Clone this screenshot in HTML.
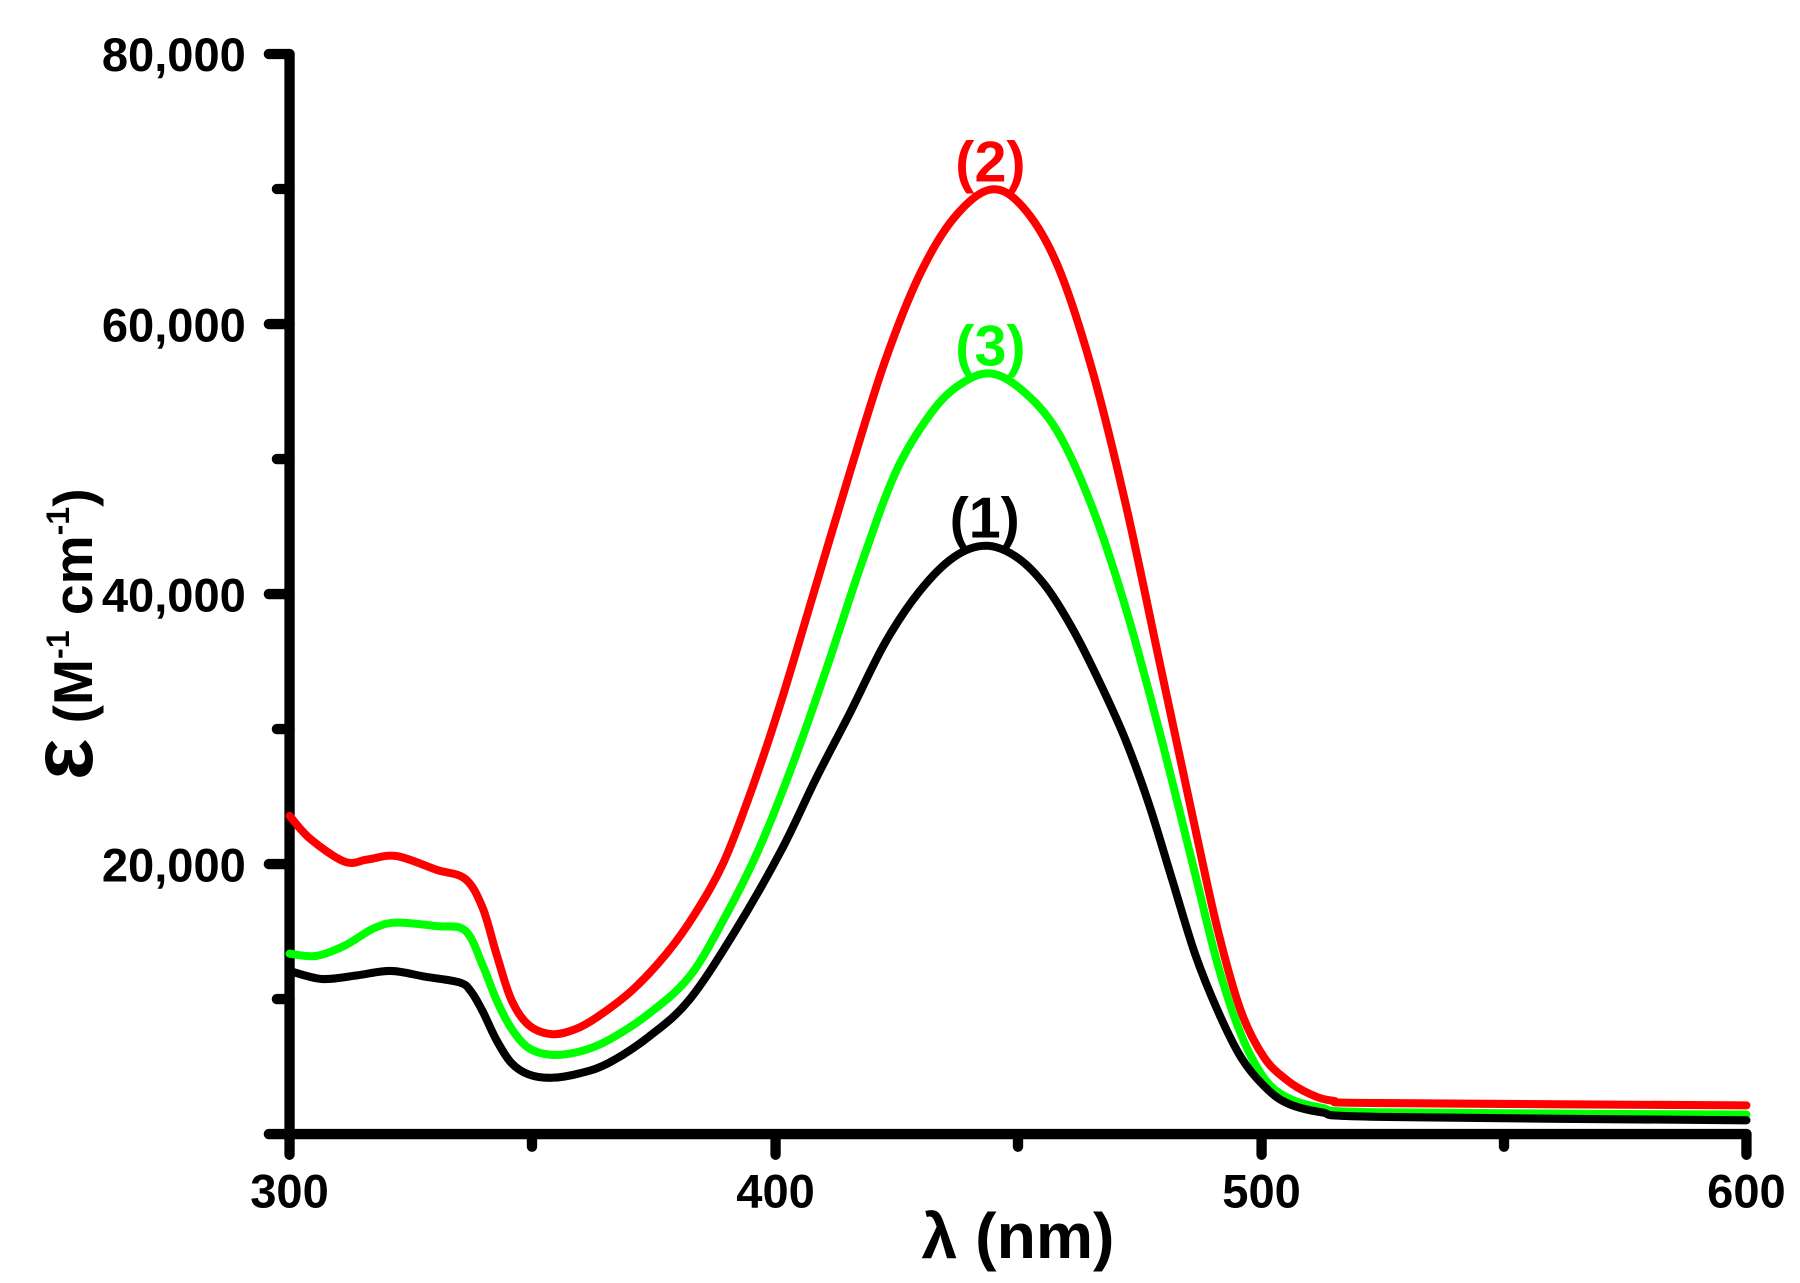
<!DOCTYPE html>
<html><head><meta charset="utf-8"><style>
html,body{margin:0;padding:0;background:#fff;}
svg{display:block;}
text{font-family:"Liberation Sans",Arial,sans-serif;font-weight:bold;}
</style></head><body>
<svg width="1800" height="1283" viewBox="0 0 1566.6 1116.6" preserveAspectRatio="none" xmlns="http://www.w3.org/2000/svg">
<g stroke="#000" stroke-width="9" stroke-linecap="round" fill="none">
<line x1="252" y1="47" x2="252" y2="987"/>
<line x1="252" y1="987" x2="1520" y2="987"/>
<line x1="234" y1="47" x2="252" y2="47"/>
<line x1="234" y1="282" x2="252" y2="282"/>
<line x1="234" y1="517" x2="252" y2="517"/>
<line x1="234" y1="752" x2="252" y2="752"/>
<line x1="234" y1="987" x2="252" y2="987"/>
<line x1="241" y1="164.5" x2="252" y2="164.5"/>
<line x1="241" y1="399.5" x2="252" y2="399.5"/>
<line x1="241" y1="634.5" x2="252" y2="634.5"/>
<line x1="241" y1="869.5" x2="252" y2="869.5"/>
<line x1="252" y1="987" x2="252" y2="1005"/>
<line x1="675" y1="987" x2="675" y2="1005"/>
<line x1="1098" y1="987" x2="1098" y2="1005"/>
<line x1="1520" y1="987" x2="1520" y2="1005"/>
<line x1="463" y1="987" x2="463" y2="998"/>
<line x1="886" y1="987" x2="886" y2="998"/>
<line x1="1309" y1="987" x2="1309" y2="998"/>
</g>
<g font-size="41" text-anchor="end" fill="#000">
<text x="214" y="62">80,000</text>
<text x="214" y="297">60,000</text>
<text x="214" y="532">40,000</text>
<text x="214" y="767">20,000</text>
</g>
<g font-size="41" text-anchor="middle" fill="#000">
<text x="252" y="1051">300</text>
<text x="675" y="1051">400</text>
<text x="1098" y="1051">500</text>
<text x="1520" y="1051">600</text>
</g>
<text x="886" y="1095" font-size="56" text-anchor="middle">λ (nm)</text>
<text transform="translate(80,552) rotate(-90)" font-size="48" text-anchor="middle"><tspan font-size="76">ε</tspan> (M<tspan font-size="28" dy="-20">-1</tspan><tspan dy="20"> cm</tspan><tspan font-size="28" dy="-20">-1</tspan><tspan dy="20">)</tspan></text>
<g fill="none" stroke-width="7" stroke-linejoin="round" stroke-linecap="round" class="cv">
<polyline stroke="#ff0000" points="252,710 270,730 300,750 320,748 345,745 380,757 405,765 420,790 432,830 445,870 460,892 480,900 500,896 520,885 550,862 580,830 605,795 630,750 655,685 680,610 710,510 740,410 770,315 800,240 830,190 862,165 890,180 920,230 950,320 980,440 1010,580 1040,720 1060,810 1080,880 1100,920 1120,940 1140,952 1160,958 1200,960 1520,962"/>
<polyline stroke="#00ff00" points="252,830 275,832 300,823 325,808 345,803 380,806 405,810 420,840 432,870 445,895 460,912 480,918 505,915 530,905 565,882 600,850 630,800 660,740 690,665 720,580 750,490 780,410 810,360 835,335 862,325 890,340 920,375 950,440 980,530 1010,640 1040,760 1060,840 1080,900 1100,938 1120,955 1150,964 1200,968 1520,970"/>
<polyline stroke="#000000" points="252,845 280,852 310,849 340,845 370,850 400,855 410,863 420,880 432,905 445,925 460,935 480,938 505,934 530,925 565,902 600,870 640,810 680,740 710,678 740,620 770,560 800,515 830,485 858,475 885,485 910,510 935,550 960,600 980,645 1000,700 1020,765 1040,830 1060,880 1080,920 1100,945 1120,960 1150,968 1200,972 1520,975"/>
</g>
<text x="862" y="158" font-size="50" fill="#ff0000" text-anchor="middle">(2)</text>
<text x="862" y="318" font-size="50" fill="#00ff00" text-anchor="middle">(3)</text>
<text x="857" y="468" font-size="50" fill="#000" text-anchor="middle">(1)</text>
</svg>
<script>
document.querySelectorAll('.cv polyline').forEach(function(pl){
  var pts=pl.getAttribute('points').trim().split(/\s+/).map(function(s){return s.split(',').map(Number);});
  var d='M'+pts[0][0]+','+pts[0][1];
  for(var i=0;i<pts.length-1;i++){
    var p0=pts[i-1]||pts[i],p1=pts[i],p2=pts[i+1],p3=pts[i+2]||p2;
    var c1x=p1[0]+(p2[0]-p0[0])/6,c1y=p1[1]+(p2[1]-p0[1])/6;
    var c2x=p2[0]-(p3[0]-p1[0])/6,c2y=p2[1]-(p3[1]-p1[1])/6;
    d+=' C'+c1x+','+c1y+' '+c2x+','+c2y+' '+p2[0]+','+p2[1];
  }
  var p=document.createElementNS('http://www.w3.org/2000/svg','path');
  p.setAttribute('d',d);p.setAttribute('stroke',pl.getAttribute('stroke'));
  pl.parentNode.replaceChild(p,pl);
});
</script>
</body></html>
